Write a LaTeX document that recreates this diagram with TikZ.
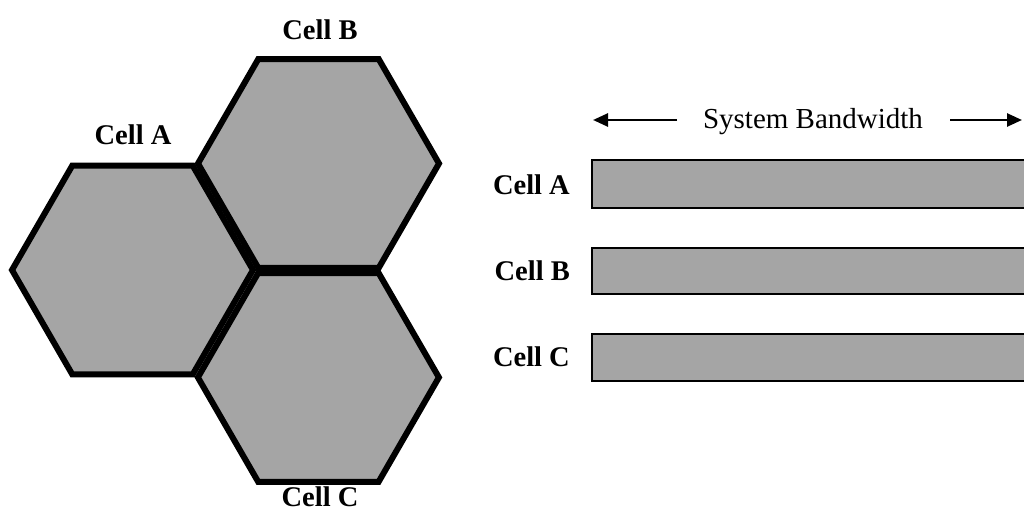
\documentclass[tikz,border=0pt]{standalone}
\usepackage{fontspec}
\setmainfont{Liberation Serif}
\usetikzlibrary{arrows.meta}
\definecolor{cellgray}{RGB}{165,165,165}
\tikzset{
  hexcell/.style={fill=cellgray, draw=black, line width=6pt, line join=miter},
  band/.style={fill=cellgray, draw=black, line width=2.4pt},
  lbl/.style={font=\fontsize{28.5}{30}\selectfont\bfseries, inner sep=0pt},
  bwtext/.style={font=\fontsize{29}{31}\selectfont, inner sep=0pt, anchor=base},
  bwarrow/.style={line width=2.6pt, -{Triangle[length=15pt,width=13pt]}}
}
\newcommand{\hexat}[2]{%
  \draw[hexcell] (#1) +(0:#2) -- +(60:#2) -- +(120:#2) -- +(180:#2) -- +(240:#2) -- +(300:#2) -- cycle;}
\begin{document}
\begin{tikzpicture}[x=1pt,y=-1pt]
  \useasboundingbox (0,0) rectangle (1024,513);
  \clip (0,0) rectangle (1024,513);

  % hexagonal cells
  \coordinate (ca) at (132.5,270);
  \coordinate (cb) at (318.5,163.5);
  \coordinate (cc) at (318.4,377.4);
  \hexat{ca}{120.5}
  \hexat{cb}{120.5}
  \hexat{cc}{120.5}

  \node[lbl] (hA) at (133,135) {Cell A};
  \node[lbl] (hB) at (320,30) {Cell B};
  \node[lbl] (hC) at (320,497) {Cell C};

  % bandwidth allocation per cell
  \node[bwtext] (bw) at (813,129) {System Bandwidth};
  \coordinate (lt) at (593,120);
  \coordinate (rt) at (1022,120);
  \coordinate (ls) at (677,120);
  \coordinate (rs) at (950,120);
  \draw[bwarrow] (ls) -- (lt);
  \draw[bwarrow] (rs) -- (rt);

  \draw[band] (592,160) rectangle (1040,208);
  \draw[band] (592,248) rectangle (1040,294);
  \draw[band] (592,334) rectangle (1040,381);

  \node[lbl, anchor=east] (bA) at (570,185) {Cell A};
  \node[lbl, anchor=east] (bB) at (570,271) {Cell B};
  \node[lbl, anchor=east] (bC) at (570,357) {Cell C};
\end{tikzpicture}
\end{document}
